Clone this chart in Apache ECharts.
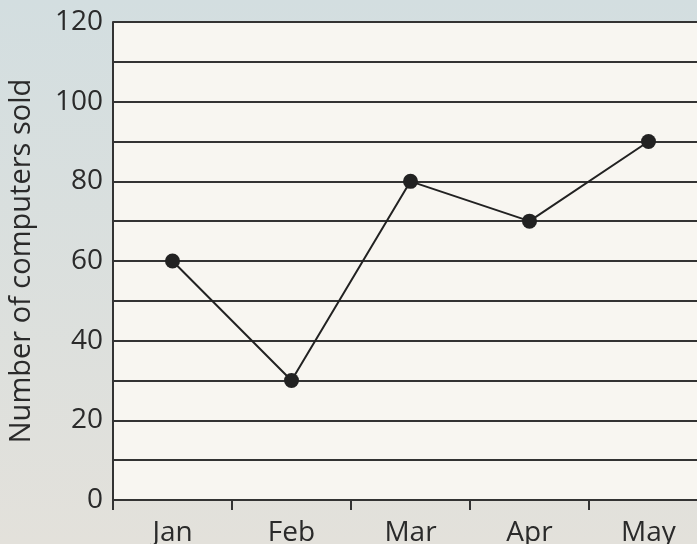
<!DOCTYPE html>
<html><head><meta charset="utf-8">
<script src="https://cdn.jsdelivr.net/npm/echarts@6/dist/echarts.min.js"></script>
<style>html,body{margin:0;padding:0;}#c{width:697px;height:544px;}</style>
</head><body><div id="c"></div>
<script>
const categories = ['Jan', 'Feb', 'Mar', 'Apr', 'May'];
const sold = [60, 30, 80, 70, 90];
const yMin = 0, yMax = 120, yStep = 10, yLabelStep = 20;
const yTitle = 'Number of computers sold';

const chart = echarts.init(document.getElementById('c'));
const font = '"Open Sans", sans-serif';
chart.setOption({
  backgroundColor: new echarts.graphic.LinearGradient(0, 0, 0, 1, [
    {offset: 0, color: '#d3dee0'}, {offset: 1, color: '#e3e1db'}
  ]),
  animation: false,
  grid: {left: 113, top: 22, width: 595, height: 478, show: true, backgroundColor: '#f8f6f1', borderWidth: 0,
    containLabel: false, outerBoundsMode: 'none'},
  xAxis: {
    type: 'category', data: categories, boundaryGap: true,
    axisLine: {show: true, lineStyle: {color: '#333', width: 2}},
    axisTick: {show: true, length: 10, lineStyle: {color: '#333', width: 2}},
    axisLabel: {fontFamily: font, fontSize: 28, color: '#2a2a2a', margin: 19}
  },
  yAxis: {
    type: 'value', min: yMin, max: yMax, interval: yStep,
    name: yTitle, nameLocation: 'middle', nameGap: 77,
    nameTextStyle: {fontFamily: font, fontSize: 29, color: '#2a2a2a'},
    axisLine: {show: true, lineStyle: {color: '#333', width: 2}},
    axisTick: {show: false},
    axisLabel: {fontFamily: font, fontSize: 28, color: '#2a2a2a', margin: 10,
      formatter: v => (v % yLabelStep === 0 ? String(v) : '')},
    splitLine: {show: true, lineStyle: {color: '#333', width: 2}}
  },
  series: [{
    type: 'line', data: sold, symbol: 'circle', symbolSize: 15,
    itemStyle: {color: '#222'}, lineStyle: {color: '#222', width: 2}
  }]
});
</script></body></html>
